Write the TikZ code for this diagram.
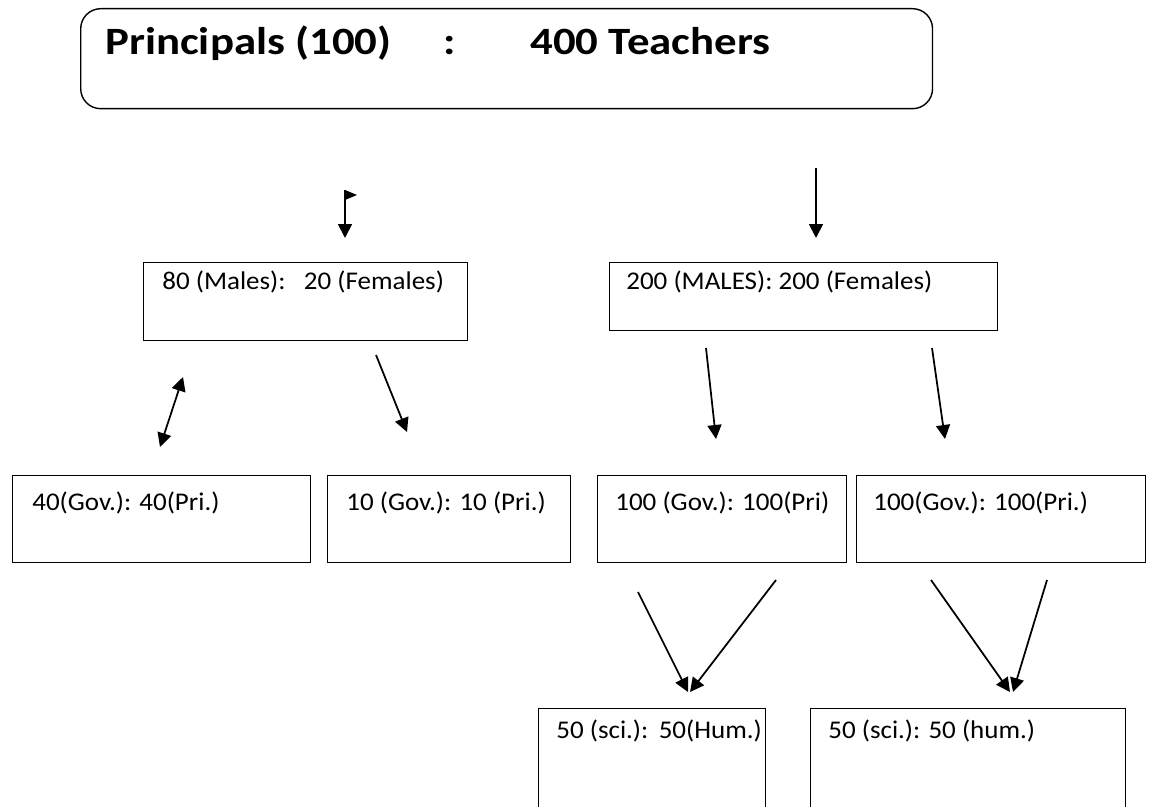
\documentclass[tikz,border=0pt]{standalone}
\usepackage{fontspec}
\setmainfont{Carlito}[FakeStretch=1.06]
\newfontfamily\titlefont{Carlito}[FakeStretch=1.16]
\usepackage{tikz}
\usetikzlibrary{arrows.meta, positioning, calc}

\begin{document}
\begin{tikzpicture}[
          x=0.02cm, y=-0.02cm,
          box/.style={draw, line width=0.8pt, anchor=north west, inner sep=0pt, minimum height=1.74cm},
          txt/.style={anchor=base west, inner sep=0pt, font=\fontsize{14.5}{17}\selectfont},
          arr/.style={line width=1pt, -{Triangle[length=0.28cm, width=0.28cm]}},
          dblarr/.style={line width=1pt, {Triangle[length=0.28cm, width=0.28cm]}-{Triangle[length=0.28cm, width=0.28cm]}}
        ]
          \clip (0,0) rectangle (1153,807);
          % top
          \node[box, rounded corners=0.4cm, minimum width=17.04cm, minimum height=2cm] (top) at (80,8) {};
          \node[txt, font=\fontsize{22}{26}\titlefont\bfseries] (topt) at (105,55)
            {\makebox[6.76cm][l]{Principals (100)}\makebox[1.74cm][l]{:}400 Teachers};
          % second row
          \node[box, minimum width=6.48cm, minimum height=1.56cm] (males) at (143,262) {};
          \node[txt] (malest) at (162,290) {80 (Males):\ \ \ 20 (Females)};
          \node[box, minimum width=7.76cm, minimum height=1.36cm] (females) at (609,262) {};
          \node[txt] (femalest) at (626,290) {200 (MALES): 200 (Females)};
          % third row
          \node[box, minimum width=5.96cm] (g1) at (12,475) {};
          \node[txt] (g1t) at (32,510) {40(Gov.): 40(Pri.)};
          \node[box, minimum width=4.86cm] (g2) at (327,475) {};
          \node[txt] (g2t) at (346,510) {10 (Gov.): 10 (Pri.)};
          \node[box, minimum width=4.98cm] (g3) at (597,475) {};
          \node[txt] (g3t) at (615,510) {100 (Gov.): 100(Pri)};
          \node[box, minimum width=5.78cm] (g4) at (856,475) {};
          \node[txt] (g4t) at (873,510) {100(Gov.): 100(Pri.)};
          % fourth row
          \node[box, minimum width=4.54cm, minimum height=2.44cm] (s1) at (538,708) {};
          \node[txt] (s1t) at (556,738) {50 (sci.):\ \,50(Hum.)};
          \node[box, minimum width=6.3cm, minimum height=2.44cm] (s2) at (810,708) {};
          \node[txt] (s2t) at (828,738) {50 (sci.): 50 (hum.)};
          % arrow ends
          \coordinate (a1s) at (345,190);
          \coordinate (a1e) at (345,238);
          \coordinate (a2s) at (816,168);
          \coordinate (a2e) at (816,238);
          \coordinate (a3s) at (183,377);
          \coordinate (a3e) at (160,447);
          \coordinate (a4s) at (376,355);
          \coordinate (a4e) at (407,432);
          \coordinate (a5s) at (706,348);
          \coordinate (a5e) at (716,439);
          \coordinate (a6s) at (932,348);
          \coordinate (a6e) at (945,439);
          \coordinate (a7s) at (638,592);
          \coordinate (a7e) at (688,692);
          \coordinate (a8s) at (776,580);
          \coordinate (a8e) at (690,692);
          \coordinate (a9s) at (931,580);
          \coordinate (a9e) at (1010,692);
          \coordinate (a10s) at (1047,580);
          \coordinate (a10e) at (1013,692);
          \draw[arr] (a1s) -- (a1e);
          \fill (a1s) -- ++(12,5) -- ++(-12,5) -- cycle;
          \draw[arr] (a2s) -- (a2e);
          \draw[dblarr] (a3s) -- (a3e);
          \draw[arr] (a4s) -- (a4e);
          \draw[arr] (a5s) -- (a5e);
          \draw[arr] (a6s) -- (a6e);
          \draw[arr] (a7s) -- (a7e);
          \draw[arr] (a8s) -- (a8e);
          \draw[arr] (a9s) -- (a9e);
          \draw[arr] (a10s) -- (a10e);
        \end{tikzpicture}
\end{document}
